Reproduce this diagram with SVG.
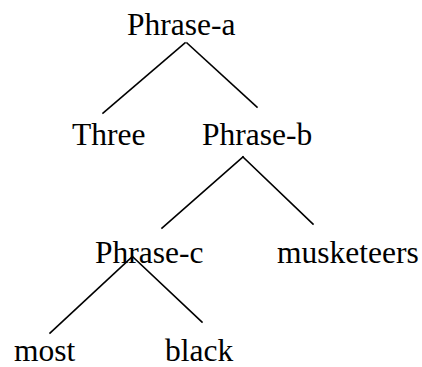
<svg xmlns="http://www.w3.org/2000/svg" width="422" height="367" viewBox="0 0 422 367">
<style>
text{font-family:"Liberation Serif","Times New Roman",serif;font-size:31.5px;fill:#000}
line{stroke:#000;stroke-width:1.6;stroke-linecap:square}
</style>
<rect width="422" height="367" fill="#fff"/>
<g id="connectors">
<line x1="185" y1="43" x2="103" y2="113"/>
<line x1="187" y1="43" x2="257" y2="107"/>
<line x1="243" y1="157" x2="162" y2="228"/>
<line x1="243" y1="157" x2="313" y2="224"/>
<line x1="132" y1="257" x2="50" y2="333"/>
<line x1="133" y1="257" x2="202" y2="322"/>
</g>
<g id="phrase-a"><text x="127" y="35">Phrase-a</text></g>
<g id="three"><text x="72" y="145">Three</text></g>
<g id="phrase-b"><text x="202" y="145">Phrase-b</text></g>
<g id="phrase-c"><text x="95" y="263">Phrase-c</text></g>
<g id="musketeers"><text x="277" y="263">musketeers</text></g>
<g id="most"><text x="14" y="361">most</text></g>
<g id="black"><text x="165" y="361">black</text></g>
</svg>
